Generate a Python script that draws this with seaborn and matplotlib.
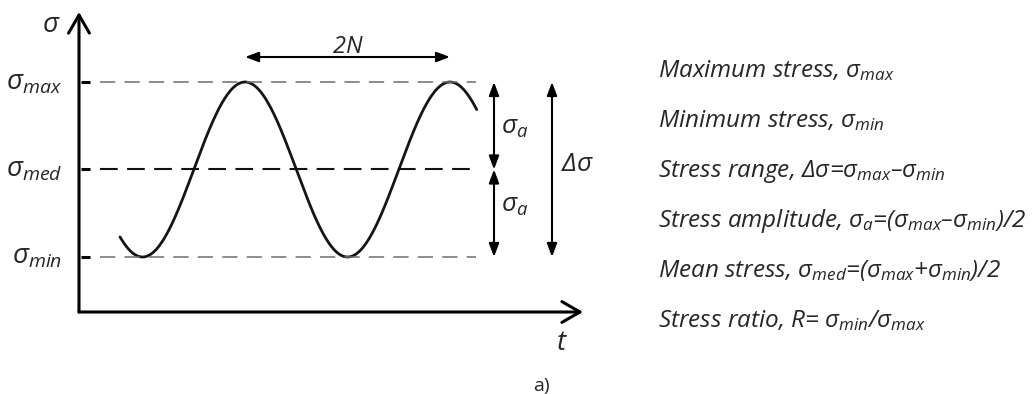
import numpy as np
import pandas as pd
import matplotlib
matplotlib.use("Agg")
import matplotlib.pyplot as plt
from matplotlib.patches import FancyArrowPatch
import seaborn as sns

# Stress levels of the constant-amplitude cycle (arbitrary units)
sigma_max = 1.0
sigma_min = -1.0
# Time axis: one load cycle (2N) equals one time unit
cycle_period = 1.0
first_peak_time = 0.81
t_start, t_end = 0.20, 1.94

sigma_med = (sigma_max + sigma_min) / 2
sigma_amp = (sigma_max - sigma_min) / 2

definitions = [
    r"Maximum stress, $\sigma_{max}$",
    r"Minimum stress, $\sigma_{min}$",
    r"Stress range, Δ$\sigma$=$\sigma_{max}$–$\sigma_{min}$",
    r"Stress amplitude, $\sigma_a$=($\sigma_{max}$–$\sigma_{min}$)/2",
    r"Mean stress, $\sigma_{med}$=($\sigma_{max}$+$\sigma_{min}$)/2",
    r"Stress ratio, R= $\sigma_{min}$/$\sigma_{max}$",
]
level_labels = [r"$\sigma_{max}$", r"$\sigma_{med}$", r"$\sigma_{min}$"]

sns.set_theme(style="white")
plt.rcParams["font.family"] = ["Open Sans", "DejaVu Sans"]
plt.rcParams["mathtext.fontset"] = "custom"
plt.rcParams["mathtext.it"] = "Open Sans:italic"
plt.rcParams["mathtext.rm"] = "Open Sans"
plt.rcParams["mathtext.sf"] = "Open Sans"
plt.rcParams["mathtext.bf"] = "Open Sans:bold"

W, H = 1034, 394
fig = plt.figure(figsize=(W / 100, H / 100), dpi=100)
ax = fig.add_axes([0, 0, 1, 1])

# pixel scale of the drawing: time unit and stress unit
t_px, s_px = 205.0, 87.5
x0_px, mid_px = 79.0, 169.5
ax.set_xlim(-x0_px / t_px, (W - x0_px) / t_px)
ax.set_ylim(-(H - mid_px) / s_px, mid_px / s_px)
ax.set_axis_off()

def to_t(px):
    return (px - x0_px) / t_px

def to_s(py):
    return (mid_px - py) / s_px

# stress history
t = np.linspace(t_start, t_end, 400)
stress = sigma_med + sigma_amp * np.cos(2 * np.pi * (t - first_peak_time) / cycle_period)
df = pd.DataFrame({"t": t, "stress": stress})
sns.lineplot(data=df, x="t", y="stress", ax=ax, color="#151515", lw=2.0, legend=False)

# coordinate axes with open arrow heads
axis_kw = dict(arrowstyle="->,head_length=13,head_width=7.5", mutation_scale=1,
               color="black", lw=2.2, shrinkA=0, shrinkB=0)
ax.add_patch(FancyArrowPatch((0, to_s(312)), (0, to_s(12)), **axis_kw))
ax.add_patch(FancyArrowPatch((0, to_s(312)), (to_t(583), to_s(312)), **axis_kw))

# reference levels
t_line_end = to_t(476)
t_dash0 = to_t(100)
for lvl, col, lw, dash in [(sigma_max, "#6e6e6e", 1.1, (10, 6)),
                           (sigma_min, "#6e6e6e", 1.1, (10, 6)),
                           (sigma_med, "#111111", 1.5, (8.5, 4.5))]:
    ax.plot([t_dash0, t_line_end], [lvl, lvl], color=col, lw=lw, dashes=dash,
            solid_capstyle="butt", dash_capstyle="butt")
    ax.plot([to_t(81), to_t(90)], [lvl, lvl], color="black", lw=2.2,
            solid_capstyle="butt")

# level labels on the stress axis
for lvl, lab in zip([sigma_max, sigma_med, sigma_min], level_labels):
    ax.text(to_t(62), lvl - 7 / s_px, lab, ha="right", va="baseline",
            fontsize=20, style="italic")
ax.text(to_t(51), to_s(32), r"$\sigma$", ha="center", va="baseline", fontsize=20)
ax.text(to_t(562), to_s(350), r"$t$", ha="center", va="baseline", fontsize=20)

# dimension arrows
dim_kw = dict(arrowstyle="<|-|>,head_length=8,head_width=3", mutation_scale=1,
              color="black", lw=1.5, shrinkA=0, shrinkB=0)
peak1 = first_peak_time
peak2 = first_peak_time + cycle_period
y2n = to_s(57)
ax.add_patch(FancyArrowPatch((peak1, y2n), (peak2, y2n), **dim_kw))
ax.text((peak1 + peak2) / 2, to_s(53), r"2$N$", ha="center", va="baseline",
        fontsize=17, style="italic")

t_amp = to_t(494)
ax.add_patch(FancyArrowPatch((t_amp, sigma_max), (t_amp, sigma_med), **dim_kw))
ax.add_patch(FancyArrowPatch((t_amp, sigma_med), (t_amp, sigma_min), **dim_kw))
ax.text(to_t(501), (sigma_max + sigma_med) / 2 - 8 / s_px, r"$\sigma_a$",
        ha="left", va="baseline", fontsize=19)
ax.text(to_t(501), (sigma_med + sigma_min) / 2 + 1 / s_px, r"$\sigma_a$",
        ha="left", va="baseline", fontsize=19)

t_rng = to_t(552)
ax.add_patch(FancyArrowPatch((t_rng, sigma_max), (t_rng, sigma_min), **dim_kw))
ax.text(to_t(561), to_s(171), r"Δ$\sigma$", ha="left", va="baseline",
        fontsize=19, style="italic")

ax.text(to_t(541), to_s(391), "a)", ha="center", va="baseline", fontsize=14)

# definitions block
for i, line in enumerate(definitions):
    fig.text(658 / W, 1 - (77 + 50 * i) / H, line, ha="left", va="baseline",
             fontsize=17.5, style="italic")

fig.savefig("out.png", dpi=100)
